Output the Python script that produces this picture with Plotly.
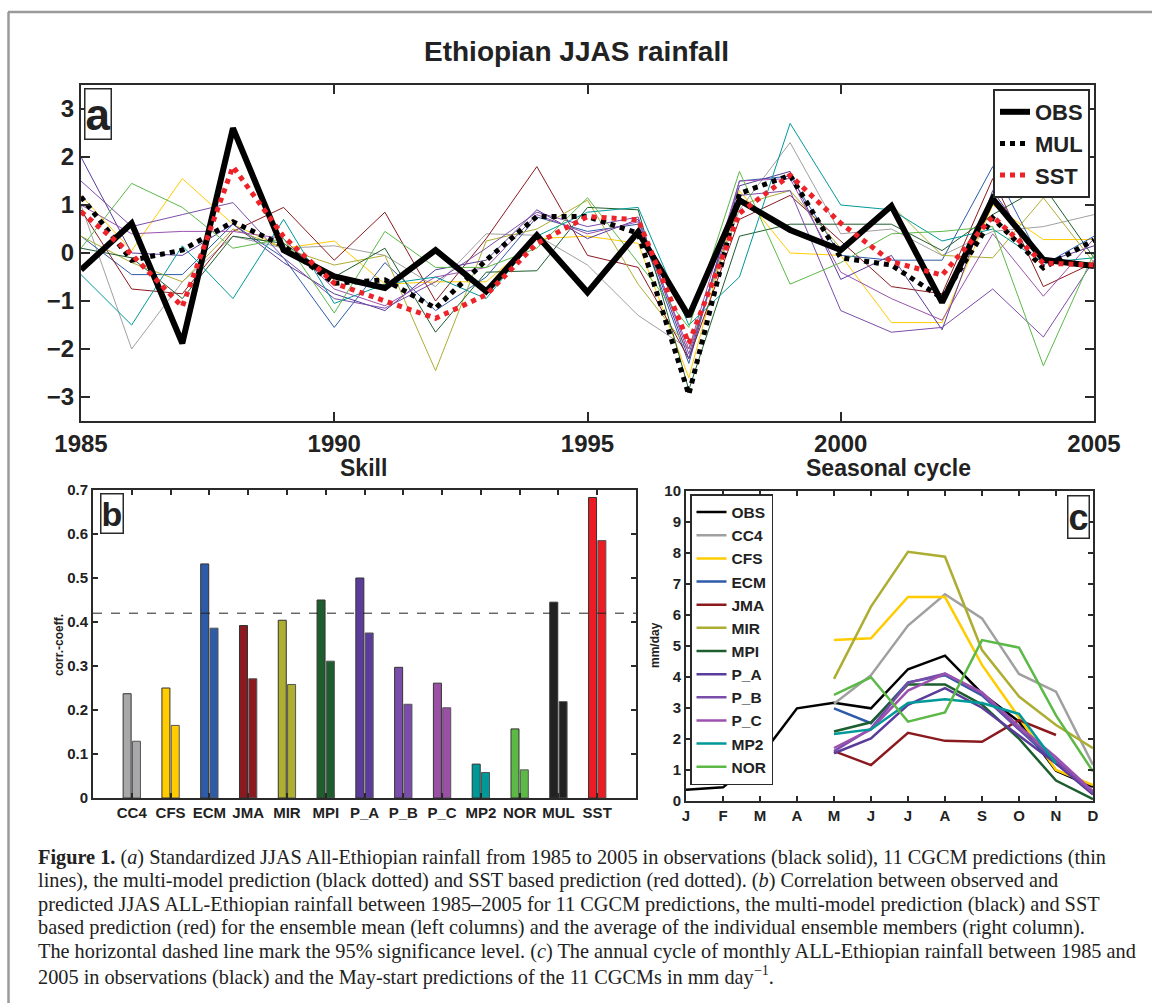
import plotly.graph_objects as go

# ---------------- data ----------------
YEARS = list(range(1985, 2006))
OBS = [-0.35, 0.62, -1.88, 2.6, 0.06, -0.49, -0.73, 0.06, -0.8, 0.37, -0.82, 0.44,
       -1.32, 1.1, 0.48, 0.06, 0.98, -1.03, 1.13, -0.14, -0.27]
MUL = [1.17, -0.15, 0.06, 0.65, 0.15, -0.63, -0.56, -1.15, -0.15, 0.76, 0.76, 0.41,
       -2.95, 1.24, 1.62, -0.1, -0.25, -0.94, 0.73, -0.31, 0.27]
SST = [0.86, -0.03, -1.12, 1.8, 0.34, -0.63, -1.0, -1.36, -0.87, 0.2, 0.76, 0.69,
       -1.88, 0.83, 1.62, 0.62, -0.18, -0.46, 0.76, -0.21, -0.25]

MODELS = ["CC4", "CFS", "ECM", "JMA", "MIR", "MPI", "P_A", "P_B", "P_C", "MP2", "NOR"]
MODEL_COLORS = ["#A0A0A0", "#FFCC00", "#2D5BA8", "#8B1A1F", "#ADAD32", "#1D5E2E",
                "#5B3C9B", "#7B4DAA", "#9B52AF", "#009999", "#5CB948"]

CC4_TS = [1.0, -2.0, -0.6, 0.35, 0.1, 0.15, -0.05, -0.7, 0.4, 0.37, -0.25, -1.3,
          -2.0, 0.9, 2.3, 0.4, 0.5, -0.05, 0.45, 0.55, 0.8]
CFS_TS = [1.2, 0.05, 1.55, 0.6, 0.1, 0.25, -0.65, -0.6, -0.6, 0.3, 0.35, 0.2,
          -2.6, 1.3, 0.0, -0.05, -1.45, -1.45, 1.0, 0.28, 0.28]
ECM_TS = [0.35, -0.45, -0.45, 0.6, -0.1, -1.55, -0.2, -1.2, -0.5, 0.75, 0.45, 0.6,
          -2.3, 1.5, 1.6, -0.05, -0.15, -0.15, 1.8, -0.25, 0.35]
JMA_TS = [0.9, -0.75, -0.85, 0.45, 0.95, -0.15, 0.85, -1.0, 0.3, 1.8, -0.05, -0.3,
          -2.2, 0.7, 1.2, 0.25, -0.7, -0.85, 1.55, -0.7, -0.2]
MIR_TS = [0.35, -0.2, -0.6, 0.5, 0.1, -0.25, -0.05, -2.45, 0.25, 0.5, 1.1, -0.65,
          -2.0, 1.0, 1.3, 0.1, 1.0, -0.05, -0.1, 1.15, -0.2]
MPI_TS = [0.1, -0.1, -0.95, 0.35, 0.2, -0.5, 0.1, -1.65, -0.4, -0.37, 0.95, 0.9,
          -2.85, 0.35, 0.6, 0.6, 0.6, 0.05, 0.8, 1.4, -0.1]
P_A_TS = [2.0, 0.0, -0.05, 0.6, -0.2, -0.85, -1.2, -0.35, -0.15, 0.9, 0.3, 0.7,
          -2.2, 1.4, 1.7, -0.55, -0.05, -1.6, 1.3, -0.2, 0.15]
P_B_TS = [1.5, 0.55, 0.8, 1.05, -0.1, -0.95, -1.15, -0.6, 0.1, 0.85, 0.55, 0.75,
          -2.1, 1.2, 1.3, -1.2, -1.65, -1.55, -0.75, -1.75, -0.15]
P_C_TS = [1.0, 0.4, 0.45, 0.45, 0.3, -0.75, -1.1, -0.5, -0.3, 0.8, 0.4, 0.65,
          -2.0, 1.5, 1.55, -0.4, -0.95, -1.4, 0.4, -0.9, 0.3]
MP2_TS = [-0.45, -1.5, 0.15, -0.95, 0.7, -1.05, -0.65, -0.5, -0.95, 0.35, 0.85, 0.95,
          -1.5, -0.5, 2.7, 1.0, 0.9, 0.25, 0.5, -0.2, -0.1]
NOR_TS = [0.1, 1.45, 0.95, 0.1, 0.3, -1.25, 0.45, -0.3, -0.3, 0.1, 1.15, -0.2,
          -1.55, 1.7, -0.65, -0.2, 0.4, 0.45, 0.55, -2.35, 0.0]

# panel b: correlation skill
BAR_CATS = ["CC4", "CFS", "ECM", "JMA", "MIR", "MPI", "P_A", "P_B", "P_C", "MP2", "NOR", "MUL", "SST"]
CORR_ENS_MEAN = [0.237, 0.250, 0.532, 0.392, 0.404, 0.450, 0.500, 0.297, 0.261, 0.077, 0.157, 0.445, 0.683]
CORR_MEMBERS = [0.129, 0.165, 0.386, 0.271, 0.258, 0.311, 0.375, 0.213, 0.205, 0.058, 0.064, 0.219, 0.585]
BAR_COLORS = ["#A8A8AA", "#FFCC00", "#2E5BA8", "#8B1A20", "#AEAE30", "#1E5E2E", "#5B3C9B",
              "#7B4DAA", "#9A50A5", "#009999", "#5DB946", "#222222", "#ED1C24"]
SIGNIF_LEVEL = 0.42

# panel c: seasonal cycle (mm/day)
MONTHS = ["J", "F", "M", "A", "M", "J", "J", "A", "S", "O", "N", "D"]
OBS_CYCLE = [0.35, 0.43, 1.4, 2.98, 3.16, 2.98, 4.24, 4.68, 3.46, 2.55, 0.97, 0.45]
# model predictions from May to December
CC4_CYCLE = [3.13, 4.05, 5.65, 6.66, 5.88, 4.09, 3.52, 1.15]
CFS_CYCLE = [5.18, 5.24, 6.57, 6.57, 4.38, 2.7, 0.99, 0.5]
ECM_CYCLE = [2.98, 2.5, 3.82, 4.05, 3.4, 2.3, 1.2, 0.3]
JMA_CYCLE = [1.6, 1.15, 2.19, 1.93, 1.9, 2.6, 2.12, None]
MIR_CYCLE = [3.93, 6.26, 8.03, 7.87, 4.86, 3.36, 2.44, 1.69]
MPI_CYCLE = [2.23, 2.53, 3.75, 3.75, 3.1, 2.0, 0.65, 0.05]
P_A_CYCLE = [1.53, 2.01, 3.09, 3.63, 3.0, 2.1, 1.2, 0.2]
P_B_CYCLE = [1.6, 2.33, 3.8, 4.1, 3.45, 2.3, 1.3, 0.25]
P_C_CYCLE = [1.7, 2.3, 3.55, 4.1, 3.5, 2.4, 1.4, 0.3]
MP2_CYCLE = [2.15, 2.3, 3.15, 3.27, 3.15, 2.8, 1.2, None]
NOR_CYCLE = [3.41, 3.98, 2.55, 2.85, 5.18, 4.94, 2.75, 0.94]
FORECAST_START = 5  # May

MODEL_TS = [CC4_TS, CFS_TS, ECM_TS, JMA_TS, MIR_TS, MPI_TS, P_A_TS, P_B_TS, P_C_TS, MP2_TS, NOR_TS]
MODEL_CYCLES = [CC4_CYCLE, CFS_CYCLE, ECM_CYCLE, JMA_CYCLE, MIR_CYCLE, MPI_CYCLE,
                P_A_CYCLE, P_B_CYCLE, P_C_CYCLE, MP2_CYCLE, NOR_CYCLE]

CAPTION = [
    "<b>Figure 1.</b> (<i>a</i>) Standardized JJAS All-Ethiopian rainfall from 1985 to 2005 in observations (black solid), 11 CGCM predictions (thin",
    "lines), the multi-model prediction (black dotted) and SST based prediction (red dotted). (<i>b</i>) Correlation between observed and",
    "predicted JJAS ALL-Ethiopian rainfall between 1985–2005 for 11 CGCM predictions, the multi-model prediction (black) and SST",
    "based prediction (red) for the ensemble mean (left columns) and the average of the individual ensemble members (right column).",
    "The horizontal dashed line mark the 95% significance level. (<i>c</i>) The annual cycle of monthly ALL-Ethiopian rainfall between 1985 and",
    "2005 in observations (black) and the May-start predictions of the 11 CGCMs in mm day<sup>−1</sup>.",
]

# ---------------- figure ----------------
W, H = 1152, 1003
SANS = "Liberation Sans, Arial, sans-serif"
SERIF = "Liberation Serif, Times New Roman, serif"
AX = "#2a2a2a"


def px_x(x):
    return x / W


def px_y(y):
    return (H - y) / H


fig = go.Figure()

# panel a: thin model lines
for name, col, ts in zip(MODELS, MODEL_COLORS, MODEL_TS):
    fig.add_trace(go.Scatter(x=YEARS, y=ts, mode="lines", name=name,
                             line=dict(color=col, width=1), showlegend=False,
                             xaxis="x", yaxis="y"))
fig.add_trace(go.Scatter(x=YEARS, y=OBS, mode="lines", name="OBS",
                         line=dict(color="#000000", width=6), legend="legend",
                         xaxis="x", yaxis="y"))
fig.add_trace(go.Scatter(x=YEARS, y=MUL, mode="lines", name="MUL",
                         line=dict(color="#000000", width=5, dash="dot"), legend="legend",
                         xaxis="x", yaxis="y"))
fig.add_trace(go.Scatter(x=YEARS, y=SST, mode="lines", name="SST",
                         line=dict(color="#EE2229", width=5, dash="dot"), legend="legend",
                         xaxis="x", yaxis="y"))

# panel b: bars
fig.add_trace(go.Bar(x=BAR_CATS, y=CORR_ENS_MEAN, marker=dict(color=BAR_COLORS,
                     line=dict(color="#333333", width=1)), showlegend=False,
                     xaxis="x2", yaxis="y2", name="ensemble mean"))
fig.add_trace(go.Bar(x=BAR_CATS, y=CORR_MEMBERS, marker=dict(color=BAR_COLORS,
                     line=dict(color="#555555", width=1)), showlegend=False,
                     xaxis="x2", yaxis="y2", name="members"))

# panel c: seasonal cycle
month_nums = list(range(1, len(MONTHS) + 1))
fig.add_trace(go.Scatter(x=month_nums, y=OBS_CYCLE, mode="lines", name="OBS",
                         line=dict(color="#000000", width=2.5), legend="legend2",
                         xaxis="x3", yaxis="y3"))
for name, col, cyc in zip(MODELS, MODEL_COLORS, MODEL_CYCLES):
    xs = list(range(FORECAST_START, FORECAST_START + len(cyc)))
    fig.add_trace(go.Scatter(x=xs, y=cyc, mode="lines", name=name,
                             line=dict(color=col, width=2.5), legend="legend2",
                             xaxis="x3", yaxis="y3"))

axis_common = dict(showline=True, linecolor=AX, linewidth=2, mirror="ticks",
                   ticks="inside", tickcolor=AX, showgrid=False, zeroline=False,
                   automargin=False)

fig.update_layout(
    width=W, height=H, margin=dict(l=0, r=0, t=0, b=0, autoexpand=False),
    paper_bgcolor="white", plot_bgcolor="white",
    font=dict(family=SANS, color="#222222", weight="bold"),
    barmode="group", bargap=0.52, bargroupgap=0.14,
    xaxis=dict(domain=[px_x(81), px_x(1094)], anchor="y", range=[1985, 2005],
               tickvals=YEARS[::5], ticklen=9, tickwidth=2,
               tickfont=dict(size=24, weight="bold"), **axis_common),
    yaxis=dict(domain=[px_y(421), px_y(85)], anchor="x", range=[-3.5, 3.5],
               tickvals=[-3, -2, -1, 0, 1, 2, 3], ticklen=9, tickwidth=2,
               tickfont=dict(size=24, weight="bold"), **axis_common),
    xaxis2=dict(domain=[px_x(93), px_x(636)], anchor="y2", type="category",
                range=[-1, len(BAR_CATS)], ticklen=5, tickwidth=1.5,
                tickfont=dict(size=15, weight="bold"), **axis_common),
    yaxis2=dict(domain=[px_y(798), px_y(490)], anchor="x2", range=[0, 0.7], dtick=0.1,
                ticklen=5, tickwidth=1.5, tickfont=dict(size=15, weight="bold"),
                **axis_common),
    xaxis3=dict(domain=[px_x(686), px_x(1093)], anchor="y3", range=[1, 12],
                tickvals=month_nums, ticktext=MONTHS, ticklen=5, tickwidth=1.5,
                tickfont=dict(size=15, weight="bold"), **axis_common),
    yaxis3=dict(domain=[px_y(800.7), px_y(490.7)], anchor="x3", range=[0, 10], dtick=1,
                ticklen=5, tickwidth=1.5, tickfont=dict(size=15, weight="bold"),
                **axis_common),
    legend=dict(x=px_x(1090), xanchor="right", y=px_y(89), yanchor="top",
                bgcolor="white", bordercolor=AX, borderwidth=2,
                font=dict(size=22, weight="bold", color="#222222"), tracegroupgap=0),
    legend2=dict(x=px_x(690), xanchor="left", y=px_y(494), yanchor="top",
                 bgcolor="white", bordercolor=AX, borderwidth=1.5,
                 font=dict(size=15.5, weight="bold", color="#222222"), tracegroupgap=0),
)

# significance line in panel b
fig.add_shape(type="line", xref="x2 domain", yref="y2", x0=0, x1=1,
              y0=SIGNIF_LEVEL, y1=SIGNIF_LEVEL, line=dict(color="#222222", width=1, dash="dash"))

# outer frame lines
fig.add_shape(type="line", xref="paper", yref="paper", x0=px_x(8), x1=1,
              y0=px_y(12), y1=px_y(12), line=dict(color="#9a9a9a", width=2.5))
fig.add_shape(type="line", xref="paper", yref="paper", x0=px_x(8.5), x1=px_x(8.5),
              y0=0, y1=px_y(12), line=dict(color="#9a9a9a", width=2.5))

ann = []
ann.append(dict(text="Ethiopian JJAS rainfall", x=0.5, y=px_y(52), xref="paper", yref="paper",
                xanchor="center", yanchor="middle",
                showarrow=False, font=dict(size=28, weight="bold", color="#222222")))
ann.append(dict(text="Skill", x=px_x(363), y=px_y(468), xref="paper", yref="paper",
                xanchor="center", yanchor="middle",
                showarrow=False, font=dict(size=23, weight="bold", color="#222222")))
ann.append(dict(text="Seasonal cycle", x=px_x(888), y=px_y(468), xref="paper", yref="paper",
                xanchor="center", yanchor="middle",
                showarrow=False, font=dict(size=23, weight="bold", color="#222222")))
# y-axis titles of panels b and c
ann.append(dict(text="corr.-coeff.", x=px_x(59), y=px_y(645), xref="paper", yref="paper",
                xanchor="center", yanchor="middle", textangle=-90, showarrow=False,
                font=dict(size=12, weight="bold", color="#222222")))
ann.append(dict(text="mm/day", x=px_x(655), y=px_y(645), xref="paper", yref="paper",
                xanchor="center", yanchor="middle", textangle=-90, showarrow=False,
                font=dict(size=12, weight="bold", color="#222222")))
# panel letters
ann.append(dict(text="a", x=px_x(84), y=px_y(88), xref="paper", yref="paper",
                xanchor="left", yanchor="top", showarrow=False, bgcolor="white",
                bordercolor=AX, borderwidth=1.5, borderpad=0,
                font=dict(size=44, weight="bold", color="#222222")))
ann.append(dict(text="b", x=px_x(100), y=px_y(493), xref="paper", yref="paper",
                xanchor="left", yanchor="top", showarrow=False, bgcolor="white",
                bordercolor=AX, borderwidth=1.5, borderpad=0,
                font=dict(size=34, weight="bold", color="#222222")))
ann.append(dict(text="c", x=px_x(1090), y=px_y(495), xref="paper", yref="paper",
                xanchor="right", yanchor="top", showarrow=False, bgcolor="white",
                bordercolor=AX, borderwidth=1.5, borderpad=0,
                font=dict(size=36, weight="bold", color="#222222")))
# caption
for i, line in enumerate(CAPTION):
    ann.append(dict(text=line, x=px_x(36), y=px_y(857 + 23.6 * i), xref="paper", yref="paper",
                    xanchor="left", yanchor="middle", showarrow=False, align="left",
                    font=dict(family=SERIF, size=20.3, weight="normal", color="#222222")))
fig.update_layout(annotations=ann)

fig.write_html("out.html", config={"displayModeBar": False},
               post_script="document.body.style.margin='0px';")
